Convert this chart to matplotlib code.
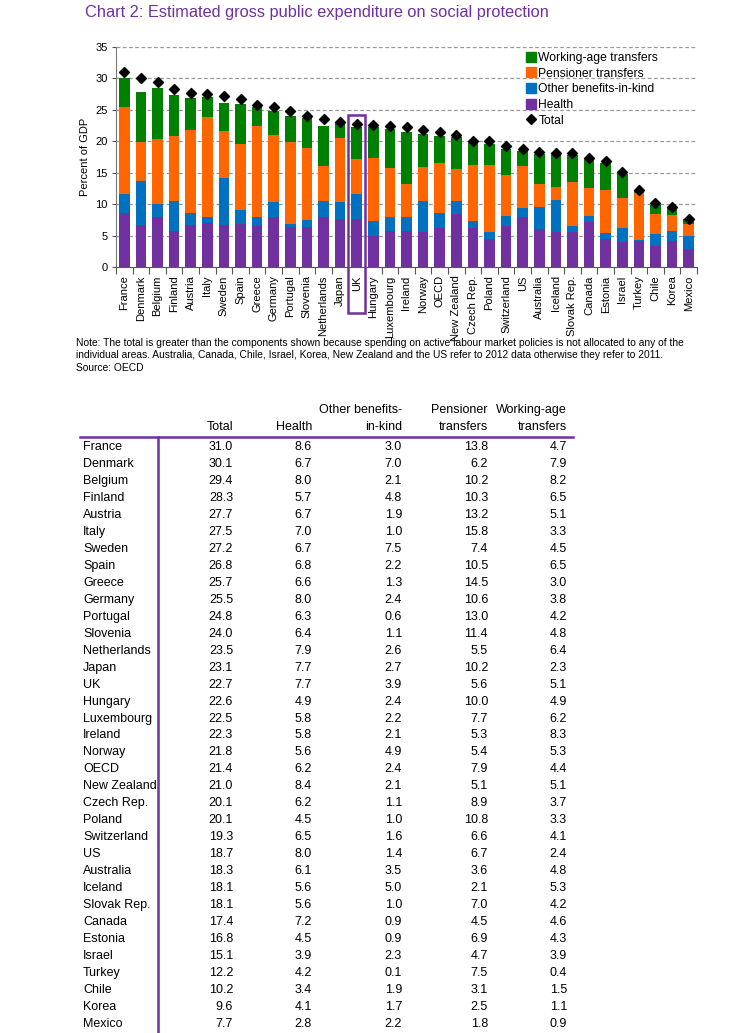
import matplotlib
matplotlib.use("Agg")
import matplotlib.pyplot as plt
import matplotlib.transforms as mtransforms
from matplotlib.patches import Rectangle
from matplotlib.lines import Line2D
import numpy as np

countries = ["France", "Denmark", "Belgium", "Finland", "Austria", "Italy", "Sweden", "Spain",
             "Greece", "Germany", "Portugal", "Slovenia", "Netherlands", "Japan", "UK", "Hungary",
             "Luxembourg", "Ireland", "Norway", "OECD", "New Zealand", "Czech Rep.", "Poland",
             "Switzerland", "US", "Australia", "Iceland", "Slovak Rep.", "Canada", "Estonia",
             "Israel", "Turkey", "Chile", "Korea", "Mexico"]
total = [31.0, 30.1, 29.4, 28.3, 27.7, 27.5, 27.2, 26.8, 25.7, 25.5, 24.8, 24.0, 23.5, 23.1, 22.7,
         22.6, 22.5, 22.3, 21.8, 21.4, 21.0, 20.1, 20.1, 19.3, 18.7, 18.3, 18.1, 18.1, 17.4, 16.8,
         15.1, 12.2, 10.2, 9.6, 7.7]
health = [8.6, 6.7, 8.0, 5.7, 6.7, 7.0, 6.7, 6.8, 6.6, 8.0, 6.3, 6.4, 7.9, 7.7, 7.7, 4.9, 5.8, 5.8,
          5.6, 6.2, 8.4, 6.2, 4.5, 6.5, 8.0, 6.1, 5.6, 5.6, 7.2, 4.5, 3.9, 4.2, 3.4, 4.1, 2.8]
other = [3.0, 7.0, 2.1, 4.8, 1.9, 1.0, 7.5, 2.2, 1.3, 2.4, 0.6, 1.1, 2.6, 2.7, 3.9, 2.4, 2.2, 2.1,
         4.9, 2.4, 2.1, 1.1, 1.0, 1.6, 1.4, 3.5, 5.0, 1.0, 0.9, 0.9, 2.3, 0.1, 1.9, 1.7, 2.2]
pensioner = [13.8, 6.2, 10.2, 10.3, 13.2, 15.8, 7.4, 10.5, 14.5, 10.6, 13.0, 11.4, 5.5, 10.2, 5.6,
             10.0, 7.7, 5.3, 5.4, 7.9, 5.1, 8.9, 10.8, 6.6, 6.7, 3.6, 2.1, 7.0, 4.5, 6.9, 4.7, 7.5,
             3.1, 2.5, 1.8]
working = [4.7, 7.9, 8.2, 6.5, 5.1, 3.3, 4.5, 6.5, 3.0, 3.8, 4.2, 4.8, 6.4, 2.3, 5.1, 4.9, 6.2, 8.3,
           5.3, 4.4, 5.1, 3.7, 3.3, 4.1, 2.4, 4.8, 5.3, 4.2, 4.6, 4.3, 3.9, 0.4, 1.5, 1.1, 0.9]

headers_top = ["", "", "Other benefits-", "Pensioner", "Working-age"]
headers_bot = ["Total", "Health", "in-kind", "transfers", "transfers"]

PURPLE = "#7030A0"
GREEN = "#008000"
ORANGE = "#FF6600"
BLUE = "#0070C0"
FONT = ["Liberation Sans", "DejaVu Sans"]
NARROW = ["Liberation Sans Narrow", "Liberation Sans", "DejaVu Sans"]
plt.rcParams["font.family"] = FONT

W, H = 737, 1033
fig = plt.figure(figsize=(W / 100, H / 100), dpi=100)

def fx(x):
    return x / W

def fy(y):
    return 1 - y / H

# Title
fig.text(fx(85), fy(12), "Chart 2: Estimated gross public expenditure on social protection",
         color=PURPLE, fontsize=11.75, va="center", ha="left")

# Chart axes
left, right, top, bottom = 116, 697, 47, 267
ax = fig.add_axes([fx(left), fy(bottom), (right - left) / W, (bottom - top) / H])
x = np.arange(len(countries))
h = np.array(health)
o = np.array(other)
p = np.array(pensioner)
w = np.array(working)
bw = 0.65
ax.bar(x, h, width=bw, color=PURPLE, label="Health", zorder=3)
ax.bar(x, o, width=bw, bottom=h, color=BLUE, label="Other benefits-in-kind", zorder=3)
ax.bar(x, p, width=bw, bottom=h + o, color=ORANGE, label="Pensioner transfers", zorder=3)
ax.bar(x, w, width=bw, bottom=h + o + p, color=GREEN, label="Working-age transfers", zorder=3)
ax.scatter(x, total, marker="D", s=26, color="black", zorder=4, label="Total")

ax.set_xlim(-0.5, len(countries) - 0.5)
ax.set_ylim(0, 35)
ax.set_yticks(range(0, 36, 5))
ax.set_xticks(x)
ax.set_xticklabels(countries, rotation=90, fontsize=8)
ax.tick_params(axis="x", length=0, pad=6)
ax.set_xticks(np.arange(-0.5, len(countries), 1), minor=True)
ax.tick_params(axis="x", which="minor", length=5, color="#555555", width=0.8)
ax.tick_params(axis="y", labelsize=8, length=3, color="#555555", width=0.8, pad=3)
for yv in range(5, 36, 5):
    ax.axhline(yv, color="#999999", lw=0.9, ls=(0, (3, 2)), zorder=1)
for s in ["top", "right"]:
    ax.spines[s].set_visible(False)
ax.spines["left"].set_color("#777777")
ax.spines["bottom"].set_color("#555555")
ax.set_ylabel("Percent of GDP", fontsize=8, labelpad=4)

handles = [
    Line2D([], [], marker="s", ls="", color=GREEN, markersize=6.5),
    Line2D([], [], marker="s", ls="", color=ORANGE, markersize=6.5),
    Line2D([], [], marker="s", ls="", color=BLUE, markersize=6.5),
    Line2D([], [], marker="s", ls="", color=PURPLE, markersize=6.5),
    Line2D([], [], marker="D", ls="", color="black", markersize=4.8),
]
labels = ["Working-age transfers", "Pensioner transfers", "Other benefits-in-kind", "Health", "Total"]
leg = ax.legend(handles, labels, loc="upper left", bbox_to_anchor=(fx(519), fy(46)),
                bbox_transform=fig.transFigure, frameon=False, fontsize=8.7,
                handletextpad=0.1, handlelength=1.0, labelspacing=0.3, borderpad=0)

# UK highlight box
uk = countries.index("UK")
trans = mtransforms.blended_transform_factory(ax.transData, fig.transFigure)
rect = Rectangle((uk - 0.52, fy(313)), 1.04, fy(115) - fy(313), transform=trans,
                 fill=False, edgecolor=PURPLE, lw=1.8, clip_on=False, zorder=5)
fig.add_artist(rect)

# Note
notes = [
    "Note: The total is greater than the components shown because spending on active labour market policies is not allocated to any of the",
    "individual areas. Australia, Canada, Chile, Israel, Korea, New Zealand and the US refer to 2012 data otherwise they refer to 2011.",
    "Source: OECD",
]
for i, t in enumerate(notes):
    fig.text(fx(76), fy(343 + 12.3 * i), t, fontsize=7.4, family=NARROW, va="center", ha="left")

# Table
col_right = [233, 312, 402, 488, 567]
for j in range(5):
    if headers_top[j]:
        fig.text(fx(col_right[j]), fy(410), headers_top[j], fontsize=9, ha="right", va="center")
    fig.text(fx(col_right[j]), fy(427), headers_bot[j], fontsize=9, ha="right", va="center")

fig.add_artist(Line2D([fx(80), fx(573)], [fy(437), fy(437)], color=PURPLE, lw=1.8,
                      transform=fig.transFigure))
fig.add_artist(Line2D([fx(158), fx(158)], [fy(437), fy(1033)], color=PURPLE, lw=1.8,
                      transform=fig.transFigure))

cols = [total, health, other, pensioner, working]
row0, rstep = 447, 16.97
for i, c in enumerate(countries):
    yy = fy(row0 + rstep * i)
    fig.text(fx(83), yy, c, fontsize=9, ha="left", va="center")
    for j in range(5):
        fig.text(fx(col_right[j]), yy, f"{cols[j][i]:.1f}", fontsize=9, ha="right", va="center")

fig.savefig("out.png", dpi=100, facecolor="white")
